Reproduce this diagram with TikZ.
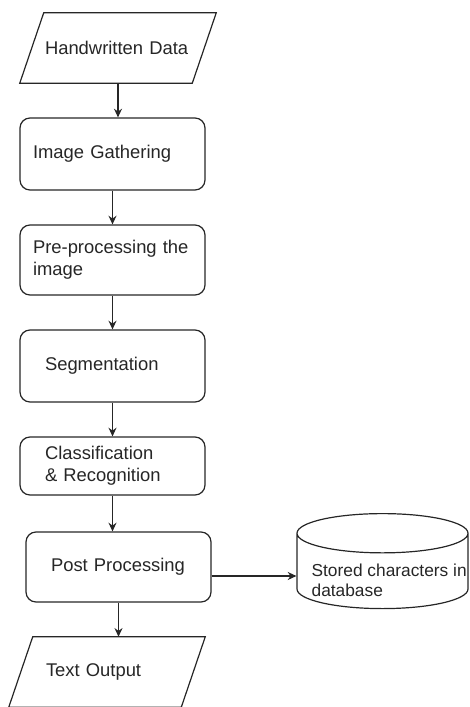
\documentclass[tikz,border=0pt]{standalone}
\usepackage{fontspec}
\setmainfont{Liberation Sans}
\usetikzlibrary{shapes.geometric,arrows.meta,positioning}

\begin{document}
\begin{tikzpicture}[
    x=0.75pt, y=-0.75pt,
    every node/.style={font=\fontsize{13.8}{16.5}\selectfont, text=black!85},
    outline/.style={draw=black!85, line width=0.9pt},
    box/.style={rectangle, outline, rounded corners=7.5pt, align=left, inner xsep=9.75pt, text width=119.25pt, minimum height=#1},
    box/.default=54pt,
    widebox/.style={box=#1, inner xsep=18.75pt, text width=101.25pt},
    widebox/.default=54pt,
    io/.style={rectangle, minimum width=129pt, minimum height=52.5pt, align=left,
        append after command={\pgfextra{\draw[outline]
            ([xshift=9pt]\tikzlastnode.north west) -- ([xshift=9pt]\tikzlastnode.north east) --
            ([xshift=-9pt]\tikzlastnode.south east) -- ([xshift=-9pt]\tikzlastnode.south west) -- cycle;}}},
    store/.style={cylinder, shape border rotate=90, aspect=0.24, outline, text width=116pt, minimum width=128.25pt, minimum height=71.25pt},
    arrow/.style={-{Stealth[length=6.5pt,width=6pt]}, line width=0.9pt, draw=black!85}
]
\useasboundingbox (0,0) rectangle (469,707);

% Input
\node[io, inner xsep=9.75pt, text width=109.5pt] (hw) at (118,48) {Handwritten Data};

% Processing steps
\node[box] (gather) at (112.5,154) {Image Gathering};
\node[box=52.5pt] (pre) at (112.5,260) {Pre-processing the\\image};
\node[widebox] (seg) at (112.5,366) {Segmentation};
\node[widebox=43.5pt] (cls) at (112.5,466) {Classification\\\& Recognition};
\node[widebox=52.5pt] (post) at (118.5,567) {Post Processing};

% Output
\node[io, inner xsep=18.75pt, text width=91.5pt] (out) at (107,672) {Text Output};

% Database
\node[store, anchor=north, label={[align=left, anchor=north, font=\fontsize{13}{14.5}\selectfont, xshift=5pt, yshift=-35pt]north:Stored characters in\\database}] (db) at (382.5,513) {};

% Arrows
\draw[arrow] (hw.south) -- (hw.south |- gather.north);
\draw[arrow] (gather) -- (pre);
\draw[arrow] (pre) -- (seg);
\draw[arrow] (seg) -- (cls);
\draw[arrow] (cls.south) -- (cls.south |- post.north);
\draw[arrow] (post.south) -- (post.south |- out.north);
\draw[arrow] ([yshift=-6.75pt]post.east) -- ([yshift=-6.75pt]post.east -| db.west);

\end{tikzpicture}
\end{document}
